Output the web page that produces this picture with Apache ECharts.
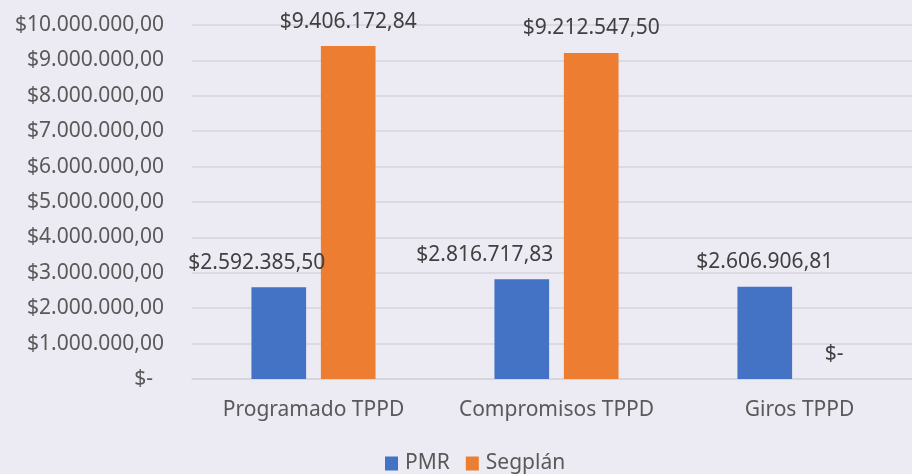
<!DOCTYPE html>
<html>
<head>
<meta charset="utf-8">
<script src="https://cdn.jsdelivr.net/npm/echarts@6/dist/echarts.min.js"></script>
<style>
  html, body { margin: 0; padding: 0; background: #ECEBF4; }
  #chart { width: 912px; height: 474px; }
</style>
</head>
<body>
<div id="chart"></div>
<script>
// datos
const categorias = ['Programado TPPD', 'Compromisos TPPD', 'Giros TPPD'];
const serieNombres = ['PMR', 'Segplán'];
const pmr = [2592385.50, 2816717.83, 2606906.81];
const segplan = [9406172.84, 9212547.50, 0];

// $9.406.172,84 style
function pesos(v) {
    if (v === 0) return '$-';
    const partes = v.toFixed(2).split('.');
    const entero = partes[0].replace(/\B(?=(\d{3})+(?!\d))/g, '.');
    return '$' + entero + ',' + partes[1];
}

const fuente = '"Noto Sans", sans-serif';
const tam = 21;
// las etiquetas PMR estaban corridas a mano a la izquierda en el original
const corrimientoPmr = [-22, -37, 0];
const myChart = echarts.init(document.getElementById('chart'));

const etiqueta = {
    show: true,
    position: 'top',
    distance: 14,
    fontFamily: fuente,
    fontSize: tam,
    color: '#404040',
    formatter: p => pesos(p.value)
};

const option = {
    backgroundColor: '#ECEBF4',
    animation: false,
    grid: { left: 192, width: 729, top: 25, bottom: 95, outerBoundsMode: 'none' },
    legend: {
        data: serieNombres,
        top: 448,
        left: 380,
        itemWidth: 13,
        itemHeight: 14,
        itemGap: 16,
        icon: 'rect',
        textStyle: { fontFamily: fuente, fontSize: tam, color: '#595959', padding: [0, 0, 0, 2] }
    },
    xAxis: {
        type: 'category',
        data: categorias,
        axisLine: { lineStyle: { color: '#D6D5DD', width: 1.5 } },
        axisTick: { show: false },
        axisLabel: { interval: 0, fontFamily: fuente, fontSize: tam, color: '#595959', margin: 21 }
    },
    yAxis: {
        type: 'value',
        min: 0,
        max: 10000000,
        interval: 1000000,
        axisLine: { show: false },
        axisTick: { show: false },
        splitLine: { lineStyle: { color: '#D6D5DD', width: 1.5 } },
        axisLabel: {
            fontFamily: fuente, fontSize: tam, color: '#595959', margin: 28,
            formatter: v => v === 0 ? '$-  ' : pesos(v)
        }
    },
    series: [
        {
            name: serieNombres[0],
            type: 'bar',
            data: pmr,
            barWidth: '22.5%',
            barGap: '27%',
            itemStyle: { color: '#4472C4' },
            label: etiqueta,
            labelLayout: p => ({ dx: corrimientoPmr[p.dataIndex], hideOverlap: false })
        },
        {
            name: serieNombres[1],
            type: 'bar',
            data: segplan,
            barWidth: '22.5%',
            itemStyle: { color: '#ED7D31' },
            label: etiqueta,
            labelLayout: { hideOverlap: false }
        }
    ]
};
myChart.setOption(option);
</script>
</body>
</html>
